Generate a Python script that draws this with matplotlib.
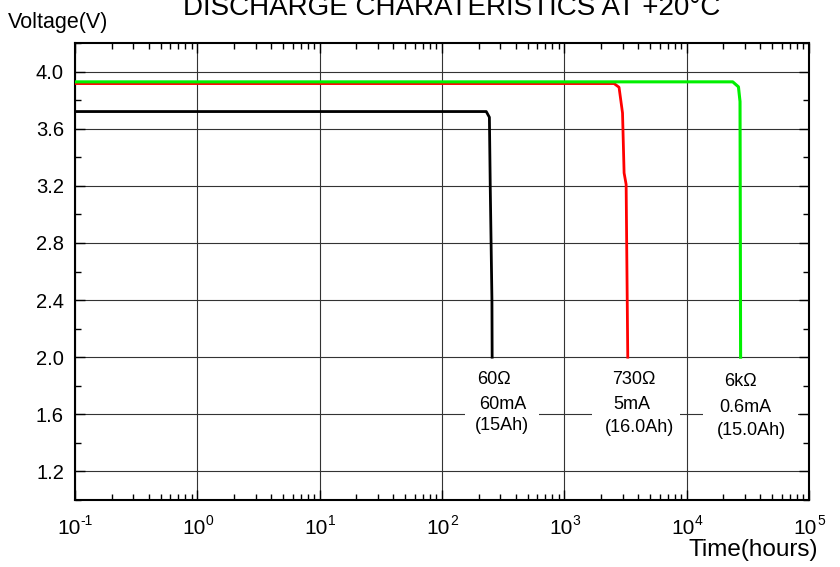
import matplotlib
matplotlib.use("Agg")
import matplotlib.pyplot as plt
from matplotlib.ticker import MultipleLocator, LogLocator, NullFormatter, FixedLocator
from matplotlib.patches import Rectangle
import math

plt.rcParams['font.family'] = ['Liberation Sans', 'DejaVu Sans']

# ---- data ----
black_t = [0.1, 230, 244, 248, 256, 257]
black_v = [3.72, 3.72, 3.68, 3.19, 2.40, 2.0]
red_t = [0.1, 2550, 2800, 2990, 3080, 3200, 3300]
red_v = [3.916, 3.916, 3.89, 3.71, 3.29, 3.21, 2.0]
green_t = [0.1, 23800, 26500, 27300, 27600]
green_v = [3.928, 3.928, 3.893, 3.79, 2.0]

labels = [["60\u03a9", "60mA", "(15Ah)"],
          ["730\u03a9", "5mA", "(16.0Ah)"],
          ["6k\u03a9", "0.6mA", "(15.0Ah)"]]

title = "DISCHARGE CHARATERISTICS AT +20\u00b0C"
ylabel = "Voltage(V)"
xlabel = "Time(hours)"
yticks = [1.2, 1.6, 2.0, 2.4, 2.8, 3.2, 3.6, 4.0]
xticks = [0.1, 1, 10, 100, 1000, 10000, 100000]

# ---- layout ----
label_x = [[267, 316, 307], [3690, 3580, 4080], [27350, 30340, 33640]]
label_y = [[1.845, 1.670, 1.524], [1.845, 1.670, 1.510], [1.831, 1.649, 1.489]]
box_x = [(154.5, 622), (1690, 8850), (13650, 81700)]
box_y = (1.43, 1.91)

fig = plt.figure(figsize=(8.4, 5.67), dpi=100)
ax = fig.add_axes([75/840, 1-500/567, (809-75)/840, (500-43)/567])

ax.set_xscale('log')
ax.set_xlim(0.1, 1e5)
ax.set_ylim(1.0, 4.2)

ax.plot(black_t, black_v, color='black', lw=2.0, zorder=3, solid_joinstyle='round')
ax.plot(red_t, red_v, color='#ff0000', lw=2.0, zorder=3, solid_joinstyle='round')
ax.plot(green_t, green_v, color='#00f000', lw=2.2, zorder=3.1, solid_joinstyle='round')

ax.set_yticks(yticks)
ax.set_yticklabels([f"{v:.1f}" for v in yticks])
ax.yaxis.set_minor_locator(MultipleLocator(0.2))
ax.xaxis.set_major_locator(FixedLocator(xticks))
ax.xaxis.set_minor_locator(LogLocator(base=10, subs=range(2, 10), numticks=20))
ax.xaxis.set_major_formatter(NullFormatter())
ax.xaxis.set_minor_formatter(NullFormatter())

ax.grid(True, which='major', color='#333333', lw=0.8)
ax.tick_params(which='both', direction='in', top=True, right=True, width=1.0)
ax.tick_params(which='major', length=7)
ax.tick_params(which='minor', length=4)
ax.tick_params(axis='y', labelsize=14.5, pad=8)
for s in ax.spines.values():
    s.set_linewidth(1.5)

# x tick labels drawn as "10" plus a small raised exponent
px = 0.72  # points per pixel at 100 dpi
w10 = 23.0
for t in xticks:
    exp = str(int(round(math.log10(t))))
    wsup = sum(4.6 if c == '-' else 7.7 for c in exp)
    total = w10 + wsup
    left = -total / 2
    ax.annotate("10", xy=(t, 0), xycoords=('data', 'axes fraction'),
                xytext=(left * px, -34 * px), textcoords='offset points',
                ha='left', va='baseline', fontsize=15, annotation_clip=False)
    ax.annotate(exp, xy=(t, 0), xycoords=('data', 'axes fraction'),
                xytext=((left + w10 + 0.5) * px, -25 * px), textcoords='offset points',
                ha='left', va='baseline', fontsize=10, annotation_clip=False)

for (x0, x1) in box_x:
    ax.add_patch(Rectangle((x0, box_y[0]), x1 - x0, box_y[1] - box_y[0],
                           facecolor='white', edgecolor='none', zorder=2))
for gi, grp in enumerate(labels):
    for li, txt in enumerate(grp):
        ax.text(label_x[gi][li], label_y[gi][li], txt, ha='center', va='center',
                fontsize=13, zorder=4)

fig.text(452/840, 1-15/567, title, ha='center', va='baseline', fontsize=20)
fig.text(8/840, 1-28/567, ylabel, ha='left', va='baseline', fontsize=15.5)
fig.text(818/840, 1-556/567, xlabel, ha='right', va='baseline', fontsize=17.5)

fig.savefig('out.png', dpi=100)
